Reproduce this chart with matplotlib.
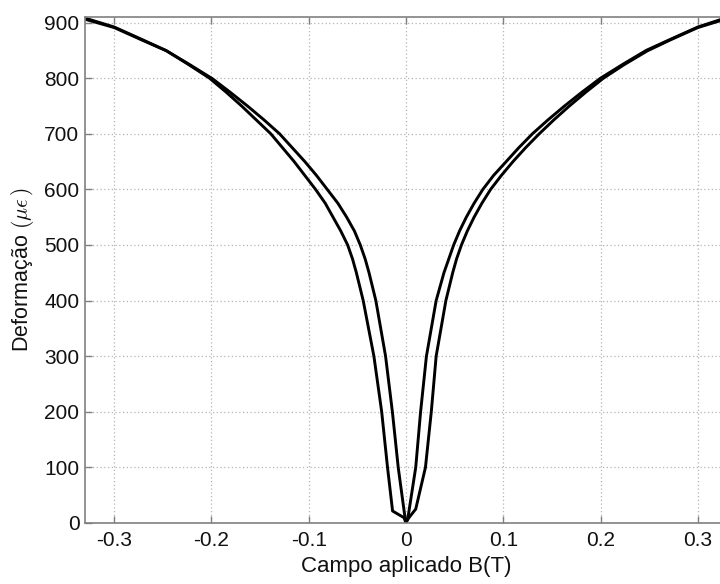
import matplotlib
matplotlib.use("Agg")
import matplotlib.pyplot as plt

plt.rcParams['font.family'] = ['Liberation Sans', 'DejaVu Sans']
plt.rcParams['mathtext.fontset'] = 'cm'
plt.rcParams['axes.unicode_minus'] = False

# Branch 1 (field decreasing): applied field B (T) and strain (micro-strain)
b_desc = [0.328, 0.300, 0.272, 0.247, 0.223, 0.200, 0.181, 0.163, 0.146, 0.130,
          0.116, 0.103, 0.090, 0.079, 0.070, 0.062, 0.055, 0.049, 0.044, 0.039,
          0.031, 0.021, 0.015, 0.010, 0.002, 0.000,
          -0.002, -0.0138, -0.019, -0.025, -0.033, -0.044, -0.051, -0.055, -0.060,
          -0.067, -0.075, -0.083, -0.093, -0.104, -0.115, -0.127, -0.139, -0.154,
          -0.169, -0.185, -0.202, -0.224, -0.247, -0.272, -0.300, -0.330]
s_desc = [908, 892, 870, 850, 825, 800, 775, 750, 725, 700,
          675, 650, 625, 600, 575, 550, 525, 500, 475, 450,
          400, 300, 200, 100, 9.5, 0,
          9.5, 21.6, 100, 200, 300, 400, 450, 475, 500,
          525, 550, 575, 600, 625, 650, 675, 700, 725,
          750, 775, 800, 825, 850, 870, 892, 908]

# Branch 2 (field increasing)
b_asc = [-0.330, -0.300, -0.272, -0.246, -0.222, -0.199, -0.181, -0.163, -0.146,
         -0.130, -0.117, -0.104, -0.092, -0.081, -0.070, -0.061, -0.053, -0.047,
         -0.042, -0.038, -0.031, -0.021, -0.014, -0.008, -0.001,
         0.000, 0.003, 0.010, 0.020, 0.026, 0.031, 0.041, 0.048, 0.052, 0.057,
         0.063, 0.070, 0.078, 0.087, 0.098, 0.110, 0.123, 0.137, 0.152, 0.168,
         0.185, 0.203, 0.224, 0.248, 0.272, 0.300, 0.328]
s_asc = [906, 891, 869, 849, 824, 799, 775, 750, 725,
         700, 675, 650, 625, 600, 575, 550, 525, 500,
         475, 450, 400, 300, 200, 100, 9.5,
         1, 9.5, 25, 100, 200, 300, 400, 450, 475, 500,
         525, 550, 575, 600, 625, 650, 675, 700, 725, 750,
         775, 800, 824, 849, 869, 891, 906]

x_ticks = [-0.3, -0.2, -0.1, 0, 0.1, 0.2, 0.3]
x_ticklabels = ['-0.3', '-0.2', '-0.1', '0', '0.1', '0.2', '0.3']
y_ticks = [0, 100, 200, 300, 400, 500, 600, 700, 800, 900]

fig = plt.figure(figsize=(7.2, 5.84), dpi=100)
ax = fig.add_axes([85/720, 61/584, 642/720, 506/584])

ax.plot(b_desc, s_desc, color='black', lw=2.1, solid_joinstyle='round')
ax.plot(b_asc, s_asc, color='black', lw=2.1, solid_joinstyle='round')

ax.set_xlim(-0.33, 0.33)
ax.set_ylim(0, 910)
ax.set_xticks(x_ticks)
ax.set_xticklabels(x_ticklabels)
ax.set_yticks(y_ticks)

ax.grid(True, linestyle=(0, (1, 2)), color='#b4b4b4', linewidth=0.9)
for sp in ax.spines.values():
    sp.set_color('#808080')
    sp.set_linewidth(1.2)
ax.tick_params(direction='in', length=5, width=1, color='#808080',
               top=True, right=True, labelsize=15, labelcolor='#111111')
ax.tick_params(axis='x', pad=6)
ax.tick_params(axis='y', pad=4)

ax.set_xlabel('Campo aplicado B(T)', fontsize=16, labelpad=4, color='#111111')
ax.set_ylabel(r'Deformação $(\mu\epsilon\,)$', fontsize=15.5, labelpad=6, color='#111111')

fig.savefig('out.png', dpi=100)
